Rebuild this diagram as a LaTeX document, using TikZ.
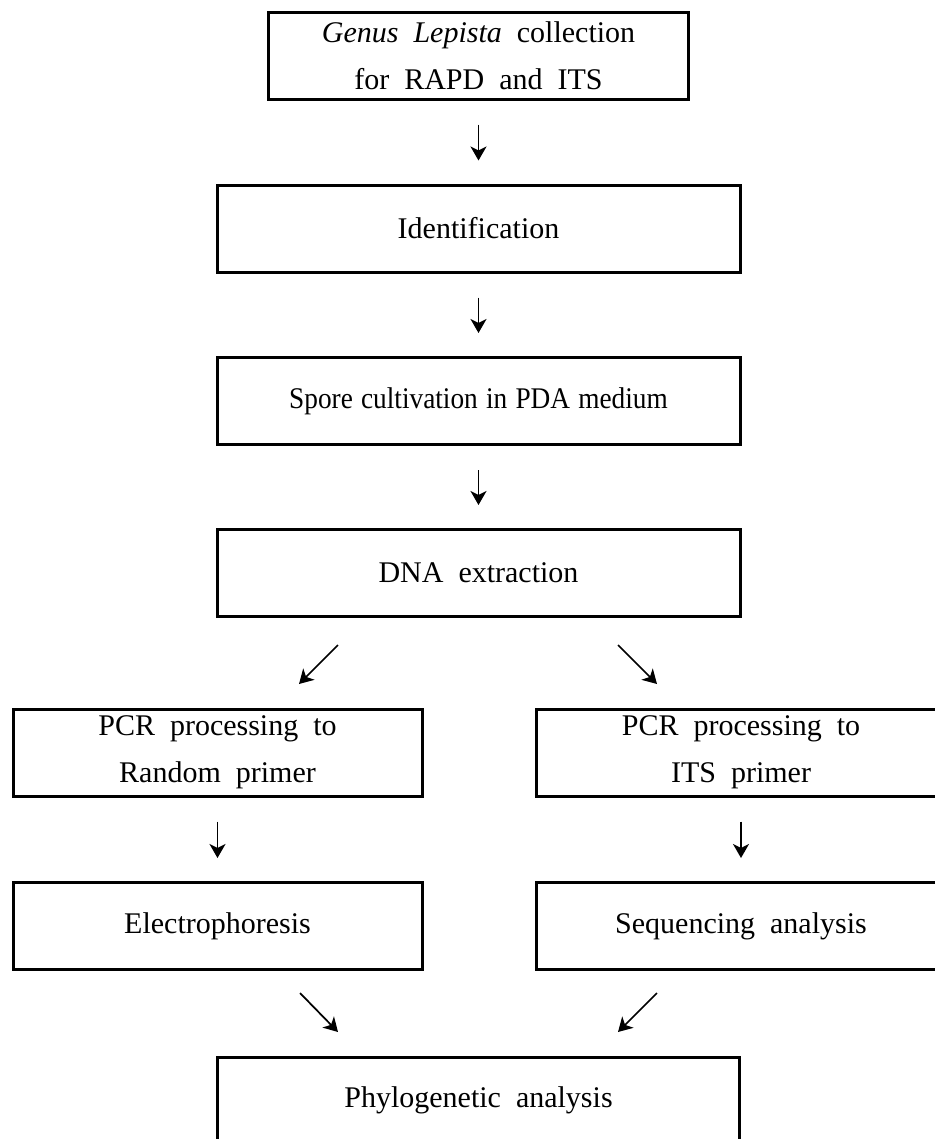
\documentclass[tikz,border=0pt]{standalone}
\usepackage{fontspec}
\setmainfont[WordSpace=2]{Liberation Serif}
\newfontfamily\tightserif[WordSpace=1.2]{Liberation Serif}
\usetikzlibrary{arrows.meta}
\begin{document}
\begin{tikzpicture}[x=0.75pt,y=-0.75pt,
  box/.style={draw, line width=2.25pt, inner sep=0pt, align=center,
    font=\fontsize{22.5}{35.25}\selectfont, minimum height=65.25pt},
  wide/.style={minimum width=392.25pt},
  half/.style={minimum width=306.75pt},
  arr/.style={line width=1.3pt, -{Stealth[length=10.5pt,width=12pt,inset=3pt]}},
  vgap/.style={shorten <=18pt, shorten >=17.25pt}]
\useasboundingbox (0,0) rectangle (935,1139);
\clip (0,0) rectangle (935,1139);

\node[box, minimum width=315pt] (b1) at (478.5,55.5) {\textit{Genus Lepista} collection\\for RAPD and ITS};
\node[box, wide] (b2) at (478.5,228.5) {Identification};
\node[box, wide] (b3) at (478.5,401) {\tightserif\scalebox{0.91}[1]{Spore cultivation in PDA medium}};
\node[box, wide] (b4) at (478.5,573) {DNA extraction};
\node[box, half] (p1) at (217.5,752.5) {PCR processing to\\Random primer};
\node[box, half] (p2) at (741,752.5) {PCR processing to\\ITS primer};
\node[box, half] (e1) at (217.5,926) {Electrophoresis};
\node[box, half] (e2) at (741,926) {Sequencing analysis};
\node[box, minimum width=391.5pt] (ph) at (478.5,1100.5) {Phylogenetic analysis};

\draw[arr, vgap] (b1.south) -- (b2.north);
\draw[arr, vgap] (b2.south) -- (b3.north);
\draw[arr, vgap] (b3.south) -- (b4.north);
\draw[arr, vgap] (p1.south) -- (e1.north);
\draw[arr, vgap] (p2.south) -- (e2.north);

\coordinate (dl1) at (338,645);
\coordinate (dl2) at (299,684);
\coordinate (dr1) at (618,645);
\coordinate (dr2) at (657,684);
\coordinate (bl1) at (300,993);
\coordinate (bl2) at (338,1032);
\coordinate (br1) at (657,993);
\coordinate (br2) at (618,1032);
\draw[arr] (dl1) -- (dl2);
\draw[arr] (dr1) -- (dr2);
\draw[arr] (bl1) -- (bl2);
\draw[arr] (br1) -- (br2);
\end{tikzpicture}
\end{document}
